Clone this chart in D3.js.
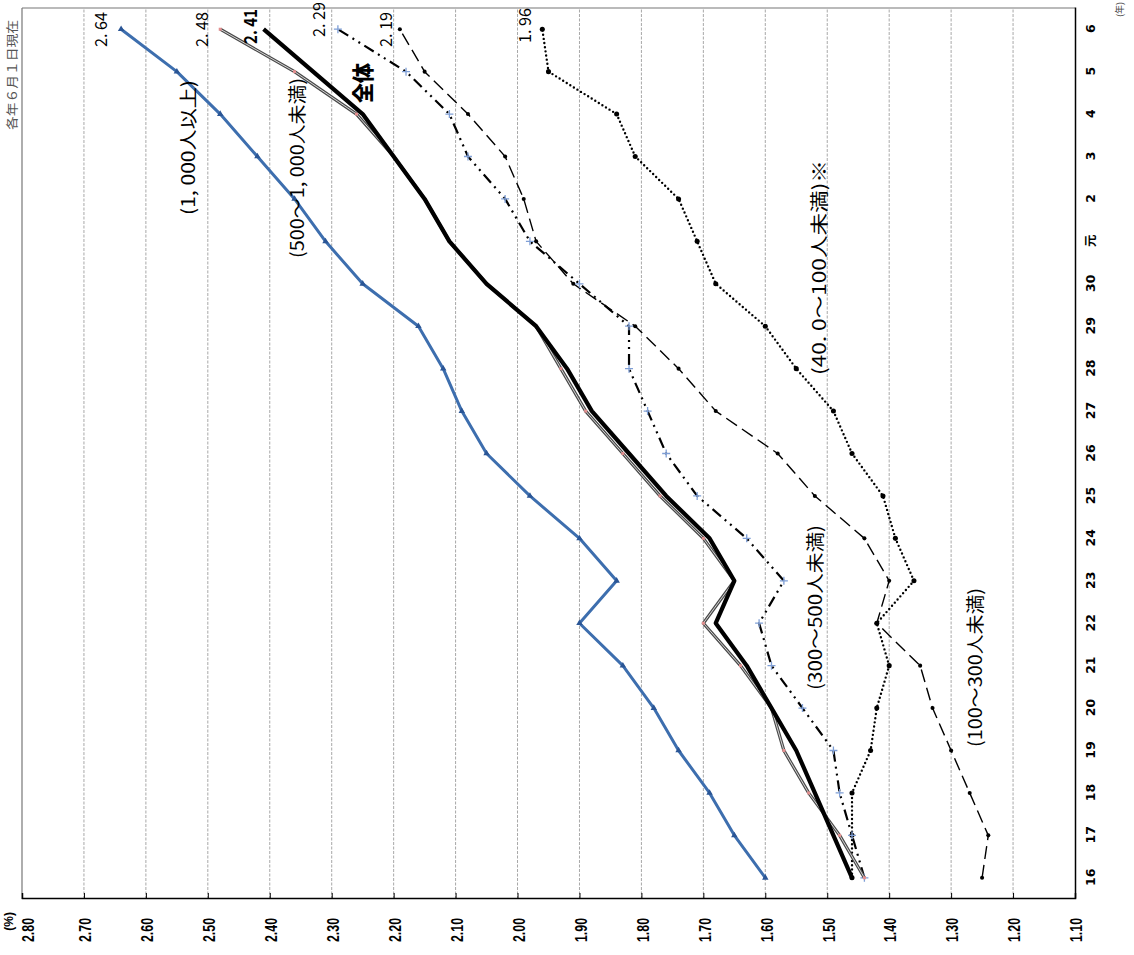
<!DOCTYPE html>
<html>
<head>
<meta charset="utf-8">
<script src="https://cdn.jsdelivr.net/npm/d3@7"></script>
<style>
  body { margin: 0; background: #fff; }
</style>
</head>
<body>
<svg id="chart" width="1134" height="955"></svg>
<script>
// 年（平成16年〜令和6年）
const years = ["16","17","18","19","20","21","22","23","24","25","26","27","28","29","30","元","2","3","4","5","6"];
const valueTicks = [2.80, 2.70, 2.60, 2.50, 2.40, 2.30, 2.20, 2.10, 2.00, 1.90, 1.80, 1.70, 1.60, 1.50, 1.40, 1.30, 1.20, 1.10];

// 企業規模別 実雇用率（%）
const over1000     = [1.60, 1.65, 1.69, 1.74, 1.78, 1.83, 1.90, 1.84, 1.90, 1.98, 2.05, 2.09, 2.12, 2.16, 2.25, 2.31, 2.36, 2.42, 2.48, 2.55, 2.64];
const from500      = [1.44, 1.48, 1.53, 1.57, 1.59, 1.64, 1.70, 1.65, 1.70, 1.77, 1.83, 1.89, 1.93, 1.97, 2.05, 2.11, 2.15, 2.20, 2.26, 2.36, 2.48];
const total        = [1.46, 1.49, 1.52, 1.55, 1.59, 1.63, 1.68, 1.65, 1.69, 1.76, 1.82, 1.88, 1.92, 1.97, 2.05, 2.11, 2.15, 2.20, 2.25, 2.33, 2.41];
const from300      = [1.44, 1.46, 1.48, 1.49, 1.54, 1.59, 1.61, 1.57, 1.63, 1.71, 1.76, 1.79, 1.82, 1.82, 1.90, 1.98, 2.02, 2.08, 2.11, 2.18, 2.29];
const from100      = [1.25, 1.24, 1.27, 1.30, 1.33, 1.35, 1.42, 1.40, 1.44, 1.52, 1.58, 1.68, 1.74, 1.81, 1.91, 1.97, 1.99, 2.02, 2.08, 2.15, 2.19];
const from40       = [1.46, 1.46, 1.46, 1.43, 1.42, 1.40, 1.42, 1.36, 1.39, 1.41, 1.46, 1.49, 1.55, 1.60, 1.68, 1.71, 1.74, 1.81, 1.84, 1.95, 1.96];

// The chart is laid out in an upright frame (W x H) and turned a quarter turn
// counter-clockwise so the years run bottom-to-top.
const W = 955, H = 1134;
const plot = { left: 56, right: 947, top: 22, bottom: 1075 };

const svg = d3.select("#chart");
const g = svg.append("g").attr("transform", `translate(0,${W}) rotate(-90)`);

const x = d3.scalePoint().domain(years).range([plot.left, plot.right]).padding(0.5);
const y = d3.scaleLinear().domain([1.10, 2.80]).range([plot.bottom, plot.top]);

// grid lines
g.append("g").selectAll("line")
  .data(valueTicks.filter(v => v > 1.10 && v < 2.80))
  .join("line")
  .attr("x1", plot.left).attr("x2", plot.right)
  .attr("y1", d => y(d)).attr("y2", d => y(d))
  .attr("stroke", "#a8a8a8").attr("stroke-width", 1)
  .attr("stroke-dasharray", "3,1.5");

// frame
g.append("line").attr("x1", plot.left).attr("x2", plot.right).attr("y1", plot.top).attr("y2", plot.top)
  .attr("stroke", "#777").attr("stroke-width", 1.2);
g.append("line").attr("x1", plot.right).attr("x2", plot.right).attr("y1", plot.top).attr("y2", plot.bottom)
  .attr("stroke", "#777").attr("stroke-width", 1.2);

// value axis
const yAxis = g.append("g").attr("transform", `translate(${plot.left},0)`)
  .call(d3.axisLeft(y).tickValues(valueTicks).tickFormat(d3.format(".2f")).tickSize(-6).tickPadding(19));
yAxis.select(".domain").attr("stroke", "#000").attr("stroke-width", 1.5);
yAxis.selectAll(".tick line").attr("stroke", "#000");
yAxis.selectAll(".tick text")
  .attr("font-family", "'Liberation Sans Narrow', 'Liberation Sans', Arial, sans-serif")
  .attr("font-weight", "bold").attr("font-size", 17).attr("fill", "#000")
  .attr("textLength", 24).attr("lengthAdjust", "spacingAndGlyphs")
  .attr("dy", d => d === 2.80 ? "0.68em" : "0.4em");

g.append("text").attr("x", 43).attr("y", 13).attr("text-anchor", "end")
  .attr("font-family", "'Liberation Sans Narrow', 'Liberation Sans', Arial, sans-serif")
  .attr("font-weight", "bold").attr("font-size", 12).text("(%)");

// year axis
const xAxis = g.append("g").attr("transform", `translate(0,${plot.bottom})`)
  .call(d3.axisBottom(x).tickSize(0).tickPadding(11));
xAxis.select(".domain").attr("stroke", "#000").attr("stroke-width", 1.5);
xAxis.selectAll(".tick text")
  .attr("font-family", "'DejaVu Sans', 'Noto Sans CJK JP', sans-serif")
  .attr("font-weight", "bold").attr("font-size", 12.5).attr("fill", "#000");

g.append("text").attr("x", 953).attr("y", 1123).attr("text-anchor", "end")
  .attr("font-family", "'Noto Sans CJK JP', sans-serif").attr("font-size", 9).attr("fill", "#444")
  .text("(年)");

g.append("text").attr("x", 935).attr("y", 17).attr("text-anchor", "end")
  .attr("font-family", "'Noto Sans CJK JP', sans-serif").attr("font-size", 12.5).attr("fill", "#555")
  .attr("textLength", 110).attr("lengthAdjust", "spacingAndGlyphs")
  .text("各年６月１日現在");

const line = d3.line().x((d, i) => x(years[i])).y(d => y(d));

function drawSeries(values, style) {
  const s = g.append("g");
  if (style.under) {
    s.append("path").attr("d", line(values)).attr("fill", "none")
      .attr("stroke", style.under.color).attr("stroke-width", style.under.width)
      .attr("stroke-linejoin", "round");
  }
  s.append("path").attr("d", line(values)).attr("fill", "none")
    .attr("stroke", style.color).attr("stroke-width", style.width)
    .attr("stroke-dasharray", style.dash || null)
    .attr("stroke-linecap", style.cap || "butt")
    .attr("stroke-linejoin", "round");
  if (style.marker) {
    s.selectAll("path.m").data(values).join("path").attr("class", "m")
      .attr("transform", (d, i) => `translate(${x(years[i])},${y(d)}) rotate(${style.marker.rotate || 0})`)
      .attr("d", style.marker.path || d3.symbol().type(style.marker.type).size(style.marker.size))
      .attr("fill", style.marker.fill || "none")
      .attr("stroke", style.marker.stroke || "none")
      .attr("stroke-width", style.marker.strokeWidth || 0);
  }
}

drawSeries(from40, { color: "#000", width: 2.4, dash: "0,4.2", cap: "round",
  marker: { type: d3.symbolCircle, size: 20, fill: "#000" } });
drawSeries(from100, { color: "#000", width: 1.4, dash: "13,6",
  marker: { type: d3.symbolCircle, size: 13, fill: "#000" } });
drawSeries(from300, { color: "#000", width: 2.2, dash: "11,5,2,5,2,5",
  marker: { path: "M-4,0H4M0,-4V4", stroke: "#7f9fd6", strokeWidth: 1.3 } });
drawSeries(from500, { color: "#d4d4d4", width: 1.0, under: { color: "#4a4a4a", width: 3.2 },
  marker: { type: d3.symbolSquare, size: 9, fill: "#e49090" } });
drawSeries(total, { color: "#000", width: 4.2 });
drawSeries(over1000, { color: "#3d6eae", width: 3,
  marker: { type: d3.symbolTriangle, size: 18, fill: "#2a5595", rotate: 90 } });

// value labels for the latest year
const fmt = v => d3.format(".2f")(v).replace(".", ". ");
const last = years.length - 1;
const endLabels = [
  { v: over1000[last], dv: -14, bold: false },
  { v: from500[last],  dv: -12, bold: false },
  { v: total[last],    dv: -7,  bold: true, du: 3 },
  { v: from300[last],  dv: -13, bold: false, du: 10 },
  { v: from100[last],  dv: -8,  bold: false },
  { v: from40[last],   dv: -11, bold: false, du: 4 }
];
g.append("g").selectAll("text").data(endLabels).join("text")
  .attr("x", d => 908 + (d.du || 0))
  .attr("y", d => y(d.v) + d.dv)
  .attr("font-family", "'Noto Sans CJK JP', 'DejaVu Sans', sans-serif")
  .attr("font-size", d => d.bold ? 18 : 17)
  .attr("font-weight", d => d.bold ? "bold" : "normal")
  .attr("textLength", 35).attr("lengthAdjust", "spacingAndGlyphs")
  .attr("fill", "#000")
  .text(d => fmt(d.v));

// series names
const names = [
  { text: "(1, 000人以上)",        u: 740, v: 195, len: 135, size: 18 },
  { text: "(500～1, 000人未満)",   u: 697, v: 304, len: 180, size: 18 },
  { text: "全体",                  u: 852, v: 371, len: 40,  size: 22, bold: true },
  { text: "(300～500人未満)",      u: 265, v: 822, len: 165, size: 18 },
  { text: "(100～300人未満)",      u: 208, v: 982, len: 159, size: 18 },
  { text: "(40. 0～100人未満)※",  u: 580, v: 826, len: 215, size: 18 }
];
g.append("g").selectAll("text").data(names).join("text")
  .attr("x", d => d.u).attr("y", d => d.v)
  .attr("font-family", "'Noto Sans CJK JP', sans-serif")
  .attr("font-size", d => d.size)
  .attr("font-weight", d => d.bold ? "900" : "normal")
  .attr("textLength", d => d.len).attr("lengthAdjust", "spacingAndGlyphs")
  .attr("fill", "#000")
  .text(d => d.text);
</script>
</body>
</html>
